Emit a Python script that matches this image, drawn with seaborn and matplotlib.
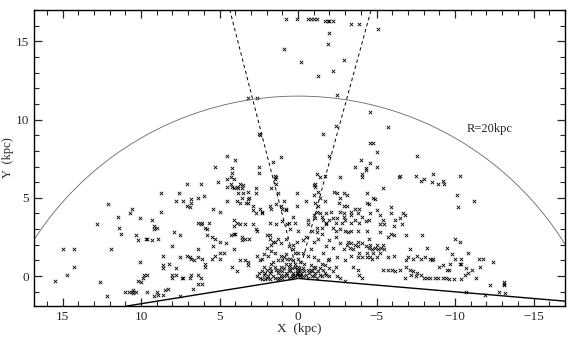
import numpy as np
import pandas as pd
import matplotlib
matplotlib.use("Agg")
import matplotlib.pyplot as plt
from matplotlib.ticker import MultipleLocator
import seaborn as sns

# (X, Y) in kpc
far_pts = [(0.8, 16.4), (0.9, 14.5), (3.2, 11.4), (2.6, 11.4), (2.5, 9.1), (2.4, 9.0),
           (4.5, 7.7), (4.0, 7.4), (5.3, 7.0), (4.2, 6.9), (2.5, 7.0), (1.6, 7.3), (1.1, 7.6),
           (0.1, 16.4), (-0.6, 16.4), (-0.8, 16.4), (-1.0, 16.4), (-1.2, 16.4), (-1.7, 16.3),
           (-1.9, 16.3), (-2.0, 16.3), (-2.2, 16.3), (-3.4, 16.1), (-3.9, 16.1), (-5.1, 15.8),
           (-2.0, 15.5), (-1.9, 14.8), (-0.2, 13.7), (-2.9, 13.8), (-2.2, 13.1), (-1.3, 12.8),
           (-2.5, 11.6), (-4.6, 10.5), (-5.7, 9.5), (-2.4, 9.6), (-1.6, 9.1), (-2.0, 7.7),
           (-4.6, 8.5), (-4.8, 8.5), (-5.0, 7.9), (-7.6, 7.7), (-4.0, 7.4), (-4.6, 7.2),
           (-3.6, 7.0), (-5.0, 7.0), (-4.3, 6.9), (2.5, 6.6), (4.2, 6.6), (-4.3, 6.8), (-4.1, 6.5)]

left_pts = [(4.3, 6.3), (4.5, 6.2), (4.1, 6.2), (7.1, 5.9), (6.2, 5.9), (5.1, 6.0), (4.3, 5.9),
            (3.7, 5.9), (3.5, 5.8), (4.5, 5.7), (4.2, 5.7), (3.9, 5.7), (3.8, 5.6), (3.6, 5.6),
            (3.2, 5.4), (3.5, 5.3), (3.8, 5.3), (4.1, 5.6), (8.7, 5.3), (7.6, 5.3), (6.0, 5.1),
            (6.4, 5.0), (7.8, 4.8), (7.3, 4.8), (6.8, 4.9), (6.8, 4.7), (7.1, 4.5), (6.9, 4.4),
            (4.5, 4.8), (3.9, 4.8), (3.6, 5.0), (3.2, 4.9), (3.1, 5.0), (3.2, 4.7), (3.3, 4.7),
            (3.7, 4.7), (2.7, 5.6), (2.7, 5.3), (12.1, 4.6), (5.4, 4.3), (5.0, 4.1), (2.9, 4.5),
            (2.9, 4.2), (2.4, 4.3), (2.3, 4.1), (10.6, 4.3), (10.7, 4.0), (11.5, 3.8), (8.7, 4.1),
            (10.1, 3.7), (9.3, 3.6), (12.8, 3.3), (11.4, 3.1), (11.3, 2.7), (9.2, 3.2), (9.0, 3.1),
            (9.2, 3.0), (6.4, 3.4), (6.1, 3.4), (5.7, 3.4), (6.2, 3.3), (5.9, 3.1), (5.8, 3.0),
            (4.1, 3.6), (3.9, 3.4), (3.7, 3.3), (4.1, 3.2), (3.4, 3.3), (2.9, 3.3), (2.7, 3.0),
            (2.6, 2.9), (10.3, 2.6), (10.2, 2.3), (9.7, 2.4), (9.6, 2.4), (9.3, 2.3), (8.9, 2.4),
            (7.9, 2.8), (7.5, 2.6), (5.8, 2.6), (5.5, 2.5), (5.3, 2.4), (5.0, 2.2), (4.3, 2.6),
            (4.1, 2.7), (4.0, 2.7), (3.6, 2.5), (3.4, 2.4), (3.1, 2.4), (3.6, 2.3), (2.0, 2.6),
            (1.8, 2.4), (1.5, 2.2), (1.7, 2.0), (15.0, 1.7), (14.3, 1.7), (11.9, 1.7), (8.0, 1.9),
            (4.6, 2.1), (5.4, 1.9), (6.4, 1.7), (4.1, 1.7), (14.3, 0.6), (14.7, 0.1), (15.5, -0.3),
            (12.6, -0.4), (12.2, -1.3), (8.6, 1.3), (8.6, 0.7), (8.6, 0.5), (10.1, 0.9), (8.2, 0.8),
            (7.8, 0.5), (7.5, 1.2), (7.1, 1.3), (6.9, 1.2), (6.8, 1.1), (6.4, 1.2), (6.1, 1.1),
            (6.6, 1.0), (5.9, 0.8), (5.9, 0.6), (5.5, 1.1), (5.3, 1.3), (5.0, 1.1), (5.0, 1.5),
            (4.7, 1.5), (4.2, 0.6), (3.9, 0.3), (3.7, 1.0), (3.4, 1.0), (3.2, 0.9), (3.2, 0.7),
            (2.6, 1.3), (2.4, 1.0), (2.3, 1.1), (9.8, 0.1), (9.6, 0.1), (9.9, -0.1), (10.2, -0.3),
            (10.0, -0.4), (8.0, 0.1), (7.8, 0.1), (8.0, -0.1), (7.4, -0.1), (7.3, -0.1), (6.9, -0.1),
            (6.8, 0.1), (6.4, 0.1), (6.2, -0.1), (6.4, -0.5), (6.1, -0.5), (6.7, -0.8), (8.3, -0.8),
            (8.5, -0.9), (9.0, -1.0), (8.9, -1.2), (9.2, -1.3), (8.6, -1.2), (9.6, -1.0), (11.0, -1.0),
            (10.8, -1.0), (10.6, -1.0), (10.5, -0.9), (10.3, -1.0), (10.5, -1.1), (7.5, -1.3)]

centre_pts = [(1.8, 3.4), (1.4, 3.3), (1.0, 3.5), (0.7, 3.3), (0.5, 3.0), (1.8, 2.6), (1.6, 2.2),
              (1.3, 2.4), (1.1, 2.1), (0.8, 2.4), (0.6, 1.9), (0.3, 2.0), (0.1, 2.2), (2.0, 1.8),
              (1.7, 1.6), (2.2, 1.4), (1.9, 1.3), (1.5, 1.5), (1.1, 1.3), (0.8, 1.4), (0.5, 1.1),
              (0.2, 1.5), (0.0, 1.1), (2.6, 0.0), (2.4, -0.1), (2.2, 0.1), (2.0, -0.1), (1.8, 0.2),
              (1.6, 0.0), (1.3, 0.2), (1.1, 0.1), (1.0, 0.3), (0.7, 0.1), (0.5, 0.4), (0.3, 0.2),
              (0.1, 0.4), (1.8, 0.5), (1.5, 0.6), (1.1, 0.6), (0.8, 0.8), (0.5, 0.8), (0.2, 0.8),
              (0.0, 0.6), (1.3, 1.0), (1.0, 1.0), (0.7, 1.1), (1.7, 0.8), (2.0, 0.4), (2.3, 0.3),
              (2.1, -0.2), (1.8, -0.2), (1.3, -0.2), (1.0, -0.1), (0.6, -0.1), (0.4, 0.0), (0.2, 0.0),
              (-0.1, 0.1), (1.5, 6.4), (1.4, 6.3), (1.5, 6.2), (1.4, 5.9), (1.7, 5.6), (1.3, 5.3),
              (0.9, 4.8), (1.4, 4.6), (1.8, 4.5), (1.7, 4.3), (1.1, 4.5), (1.0, 4.3), (0.8, 4.3),
              (0.1, 5.3), (0.1, 4.5), (2.3, 4.0), (2.7, 4.0), (0.8, 4.2), (0.3, 3.8), (0.2, 3.4),
              (-0.6, 3.6), (-0.6, 3.3), (0.0, 2.9), (-0.3, 2.3), (-0.5, 2.5), (0.6, 3.4), (-0.5, 4.8)]

# the dark clump just round the Sun
clump_pts = [(2.5, 0.2), (2.3, -0.2), (2.1, 0.2), (1.9, 0.0), (1.7, 0.3), (1.5, -0.1), (1.4, 0.4),
             (1.2, -0.1), (1.2, 0.4), (0.9, 0.0), (0.9, 0.5), (0.8, 0.2), (0.6, 0.3), (0.6, 0.6),
             (0.4, -0.1), (0.4, 0.5), (0.3, 0.1), (0.1, 0.2), (0.0, 0.3), (-0.2, 0.2), (-0.3, 0.0),
             (-0.3, 0.5), (-0.5, 0.1), (-0.6, 0.4), (-0.7, 0.2), (-0.9, 0.3), (-1.0, 0.0), (-1.0, 0.5),
             (-1.3, 0.3), (-1.5, 0.0), (-1.6, 0.4), (-1.8, 0.1), (2.2, 0.6), (1.6, 0.9), (0.9, 1.2)]

right_pts = [(-1.2, 6.5), (-1.7, 6.4), (-1.4, 6.3), (-1.1, 5.9), (-2.7, 6.3), (-5.4, 5.6), (-6.4, 6.3),
             (-6.5, 6.4), (-7.5, 6.4), (-7.8, 6.1), (-8.0, 6.2), (-8.6, 6.5), (-8.5, 6.0), (-8.9, 5.9),
             (-9.2, 6.1), (-9.3, 5.9), (-10.3, 6.4), (-10.1, 5.2), (-10.2, 4.4), (-11.2, 4.8), (-4.1, 6.3),
             (-1.7, 4.8), (-2.3, 5.4), (-2.5, 5.3), (-2.9, 5.3), (-3.1, 5.2), (-2.7, 5.0), (-4.4, 5.3),
             (-4.9, 4.9), (-2.6, 4.7), (-2.9, 4.5), (-3.1, 4.5), (-4.4, 4.7), (-1.1, 4.7), (-1.1, 5.7),
             (-1.0, 5.8), (-1.3, 5.4), (-1.0, 5.2), (-1.4, 5.0), (-1.3, 4.5), (-4.8, 5.0), (-4.5, 4.6),
             (-2.1, 4.1), (-1.8, 4.0), (-2.7, 4.1), (-2.9, 4.0), (-2.9, 3.8), (-2.5, 3.7), (-2.2, 3.7),
             (-2.0, 3.6), (-1.8, 3.4), (-2.4, 3.4), (-2.8, 3.4), (-3.0, 3.6), (-3.4, 4.1), (-3.6, 4.3),
             (-3.9, 4.3), (-3.4, 3.9), (-3.8, 4.0), (-4.1, 3.8), (-3.6, 3.6), (-3.4, 3.4), (-3.9, 3.4),
             (-4.3, 3.5), (-4.5, 3.6), (-4.6, 4.0), (-5.0, 4.2), (-5.2, 3.9), (-5.4, 3.6), (-5.2, 3.3),
             (-5.5, 3.3), (-5.9, 4.4), (-5.9, 4.0), (-6.2, 3.6), (-6.1, 3.2), (-6.5, 3.7), (-6.6, 3.3),
             (-6.8, 3.9), (-6.7, 4.0), (-1.2, 4.1), (-1.4, 4.0), (-1.5, 3.8), (-1.1, 3.7), (-1.0, 3.9),
             (-1.6, 3.6), (-1.8, 3.3), (-1.2, 3.1), (-1.5, 3.1), (-0.9, 2.9), (-1.2, 2.8), (-1.5, 2.7),
             (-2.2, 3.1), (-2.4, 2.9), (-2.7, 3.0), (-3.0, 2.9), (-3.2, 2.8), (-3.4, 2.9), (-3.8, 2.9),
             (-4.4, 2.9), (-4.5, 2.4), (-5.2, 2.8), (-5.7, 2.5), (-5.9, 2.7), (-6.1, 2.6), (-6.9, 2.6),
             (-7.9, 2.6), (-10.0, 2.4), (-10.3, 2.2), (-3.2, 2.2), (-3.4, 2.1), (-3.6, 2.0), (-3.8, 1.9),
             (-4.1, 2.1), (-4.3, 1.9), (-4.5, 1.8), (-4.7, 1.7), (-4.9, 1.8), (-5.1, 1.7), (-5.3, 1.8),
             (-5.5, 1.7), (-3.3, 1.8), (-3.5, 1.7), (-3.9, 1.5), (-4.4, 1.5), (-4.8, 1.5), (-5.2, 1.5),
             (-3.1, 2.0), (-3.8, 2.2), (-4.6, 2.0), (-5.0, 2.0), (-5.4, 2.0), (-4.1, 1.2), (-3.8, 1.2),
             (-3.4, 1.3), (-4.6, 1.2), (-5.0, 1.2), (-5.7, 1.2), (-6.1, 1.3), (-2.0, 2.3), (-2.4, 2.5),
             (-2.7, 2.1), (-1.8, 1.9), (-2.2, 1.8), (-2.9, 1.7), (-1.6, 1.5), (-2.0, 1.1), (-2.5, 1.2),
             (-3.0, 1.0), (-1.3, 2.4), (-1.0, 2.2), (-0.8, 1.7), (0.3, 1.7), (0.0, 1.5), (-0.3, 1.5),
             (-0.6, 1.3), (-1.0, 1.2), (-1.3, 1.0), (-1.5, 0.8), (0.3, 1.0), (-0.1, 0.9), (-0.4, 0.8),
             (-0.8, 0.7), (-1.1, 0.6), (-1.4, 0.5), (-1.7, 0.7), (0.2, 0.6), (-0.1, 0.4), (-0.4, 0.3),
             (-0.8, 0.4), (-1.1, 0.2), (-1.4, 0.1), (-1.7, 0.2), (0.1, 0.1), (-0.1, 0.0), (-0.6, -0.1),
             (-0.9, 0.0), (-1.2, -0.1), (-2.0, 0.0), (-2.2, 0.3), (-2.7, -0.1), (-3.0, -0.3), (-2.0, 0.5),
             (-2.4, 0.6), (-1.9, 1.0), (-2.5, 0.0), (-3.9, 0.1), (-4.1, -0.1), (-3.5, 0.6), (-3.8, 0.4),
             (-4.4, 1.2), (-4.7, 1.1), (-5.4, 0.4), (-5.7, 0.4), (-6.0, 0.4), (-6.2, 0.3), (-6.5, 0.4),
             (-6.9, 1.0), (-7.0, 1.2), (-7.3, 1.1), (-7.6, 1.3), (-7.8, 1.1), (-8.1, 1.2), (-8.4, 1.1),
             (-6.9, 0.6), (-7.1, 0.4), (-7.3, 0.3), (-7.6, 0.2), (-7.8, 0.1), (-8.0, -0.1), (-6.8, -0.1),
             (-7.2, 0.1), (-7.5, 0.0), (-8.2, -0.1), (-8.4, -0.1), (-8.7, -0.1), (-8.5, 1.0), (-8.6, 1.1),
             (-8.2, 1.8), (-7.1, 1.7), (-9.5, 1.8), (-10.8, 1.5), (-11.5, 1.1), (-11.8, 1.1), (-12.4, 0.9),
             (-10.0, 1.1), (-10.4, 1.1), (-11.6, 0.6), (-9.0, 0.6), (-9.2, 0.7), (-9.7, 0.8), (-10.3, 0.8),
             (-10.4, 0.8), (-9.6, 0.4), (-9.5, 0.4), (-10.7, 0.5), (-11.1, 0.4), (-10.8, 0.2), (-10.6, 0.1),
             (-11.3, -0.1), (-8.9, -0.1), (-9.2, -0.1), (-9.4, -0.1), (-9.6, -0.2), (-9.9, -0.2),
             (-10.4, -0.2), (-12.2, -0.6), (-13.1, -0.4), (-13.1, -0.5), (-13.1, -0.6), (-12.8, -1.0),
             (-13.2, -1.1), (-10.7, -1.0), (-11.9, -1.2), (-9.8, 1.4)]

# guide lines
cone_left = [(0.0, 0.0), (4.35, 17.0)]
cone_right = [(0.0, 0.0), (-4.65, 17.0)]
limit_line = [(10.9, -1.91), (0.0, -0.15), (-17.0, -1.6)]
circle_radius = 20.0
circle_centre_y = -8.5

pts = far_pts + left_pts + centre_pts + clump_pts + right_pts
df = pd.DataFrame(pts, columns=["x", "y"])

sns.set_style("ticks")
plt.rcParams['font.family'] = ['Liberation Serif', 'DejaVu Serif']

fig = plt.figure(figsize=(5.7, 3.41), dpi=100)
ax = fig.add_axes([34 / 570, 1 - 306 / 341, (565 - 34) / 570, (306 - 10) / 341])

sns.scatterplot(data=df, x="x", y="y", marker="x", color="black", s=6,
                linewidth=0.6, ax=ax, legend=False)

# R = 20 kpc circle round the galactic centre
t = np.linspace(-np.pi / 2, np.pi / 2, 400)
ax.plot(circle_radius * np.sin(t), circle_centre_y + circle_radius * np.cos(t),
        color="0.4", lw=0.6)

for seg in (cone_left, cone_right):
    ax.plot([p[0] for p in seg], [p[1] for p in seg], color="black", lw=0.7,
            ls=(0, (3.5, 3)))
ax.plot([p[0] for p in limit_line], [p[1] for p in limit_line], color="black", lw=1.0)

ax.text(-12.2, 9.4, "R=20kpc", ha="center", va="center", fontsize=9)

ax.set_xlim(16.82, -17.0)
ax.set_ylim(-1.91, 17.0)
ax.set_xticks([15, 10, 5, 0, -5, -10, -15])
ax.set_yticks([0, 5, 10, 15])
ax.xaxis.set_minor_locator(MultipleLocator(1))
ax.yaxis.set_minor_locator(MultipleLocator(1))
ax.tick_params(which="both", direction="in", top=True, right=True, labelsize=9.5)
ax.tick_params(which="major", length=6, width=0.9)
ax.tick_params(which="minor", length=3.5, width=0.8)
for s in ax.spines.values():
    s.set_linewidth(1.0)
    s.set_color("black")

ax.set_xlabel("X  (kpc)", fontsize=9.5, labelpad=0)
ax.set_ylabel("Y  (kpc)", fontsize=9, labelpad=1)

fig.savefig("out.png", dpi=100)
